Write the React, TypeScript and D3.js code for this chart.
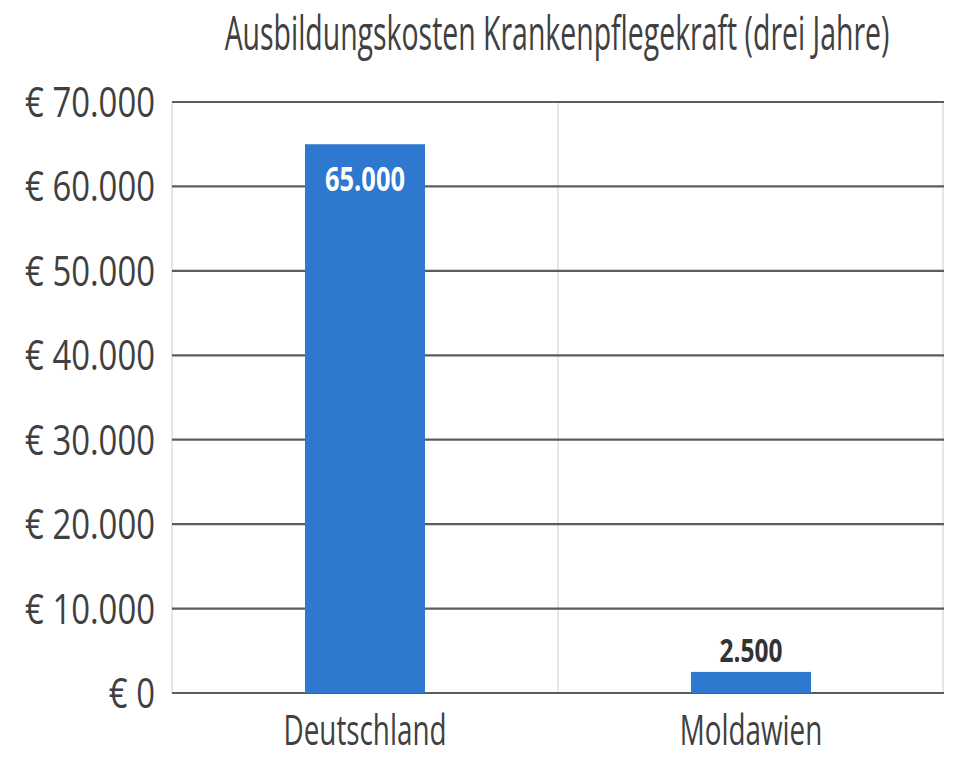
import React from "react";
import * as d3 from "d3";

const categories = ["Deutschland", "Moldawien"];
const values = [65000, 2500];
const valueLabels = ["65.000", "2.500"];
const yTicks = [0, 10000, 20000, 30000, 40000, 50000, 60000, 70000];
const yTickLabels = ["€ 0", "€ 10.000", "€ 20.000", "€ 30.000", "€ 40.000", "€ 50.000", "€ 60.000", "€ 70.000"];
const title = "Ausbildungskosten Krankenpflegekraft (drei Jahre)";

const W = 953;
const H = 757;
const FAMILY = "'Open Sans', 'Noto Sans', sans-serif";

let canvasCtx: CanvasRenderingContext2D | null = null;
function measure(text: string, font: string): number {
  if (!canvasCtx) {
    const c = document.createElement("canvas");
    canvasCtx = c.getContext("2d");
  }
  if (!canvasCtx) return text.length * 20;
  canvasCtx.font = font;
  return canvasCtx.measureText(text).width;
}

export default function App() {
  const left = 172;
  const right = 944;
  const top = 102;
  const bottom = 693;
  const x = d3.scaleBand<string>().domain(categories).range([left, right]).paddingInner(0).paddingOuter(0);
  const y = d3.scaleLinear().domain([0, 70000]).range([bottom, top]);
  const barW = 120;

  const titleSize = 47;
  const tickSize = 42;
  const catSize = 42;
  const valSize = 34;
  const smallValSize = 33;
  const sTitle = 665 / measure(title, `${titleSize}px ${FAMILY}`);
  const sTick = 130 / measure("€ 70.000", `${tickSize}px ${FAMILY}`);
  const sCat = 163 / measure("Deutschland", `${catSize}px ${FAMILY}`);
  const sVal = 80 / measure("65.000", `bold ${valSize}px ${FAMILY}`);
  const sValSmall = 63 / measure("2.500", `bold ${smallValSize}px ${FAMILY}`);

  return (
    <svg width={W} height={H} style={{ position: "absolute", left: 0, top: 0, background: "#fff" }}>
      <text
        transform={`translate(557,50) scale(${sTitle},1)`}
        textAnchor="middle"
        fontFamily={FAMILY}
        fontSize={titleSize}
        fill="#404040"
      >
        {title}
      </text>
      {[left, left + x.bandwidth(), right - 1].map((vx, i) => (
        <line key={i} x1={vx} x2={vx} y1={top} y2={bottom} stroke="#dedede" strokeWidth={1.5} />
      ))}
      {yTicks.map((t, i) => (
        <g key={t}>
          <line x1={left} x2={right} y1={y(t)} y2={y(t)} stroke="#5c5c5c" strokeWidth={2.2} />
          <text
            transform={`translate(155,${y(t) + 15}) scale(${sTick},1)`}
            textAnchor="end"
            fontFamily={FAMILY}
            fontSize={tickSize}
            fill="#404040"
          >
            {yTickLabels[i]}
          </text>
        </g>
      ))}
      {categories.map((c, i) => {
        const cx = (x(c) as number) + x.bandwidth() / 2;
        const v = values[i];
        const inside = y(0) - y(v) > 60;
        return (
          <g key={c}>
            <rect x={cx - barW / 2} y={y(v)} width={barW} height={y(0) - y(v)} fill="#2f78d0" />
            <text
              transform={`translate(${cx},${inside ? y(v) + 47 : y(v) - 10}) scale(${inside ? sVal : sValSmall},1)`}
              textAnchor="middle"
              fontFamily={FAMILY}
              fontWeight="bold"
              fontSize={inside ? valSize : smallValSize}
              fill={inside ? "#ffffff" : "#333333"}
            >
              {valueLabels[i]}
            </text>
            <text
              transform={`translate(${cx},745) scale(${sCat},1)`}
              textAnchor="middle"
              fontFamily={FAMILY}
              fontSize={catSize}
              fill="#404040"
            >
              {c}
            </text>
          </g>
        );
      })}
    </svg>
  );
}
